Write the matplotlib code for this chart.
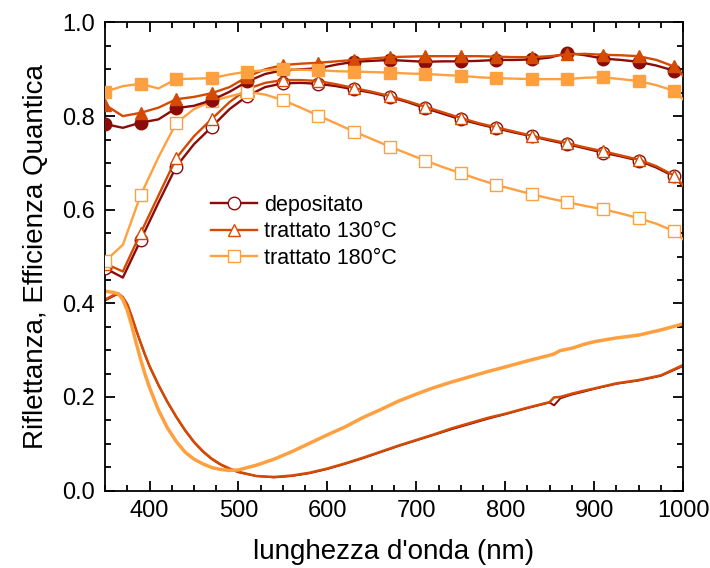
import numpy as np
import matplotlib
matplotlib.use("Agg")
import matplotlib.pyplot as plt
from matplotlib.ticker import MultipleLocator, FormatStrFormatter

plt.rcParams['font.family'] = ['Liberation Sans', 'DejaVu Sans']

# wavelength grid for the quantum efficiency curves (markers every 40 nm)
wl_qe = [350, 370, 390, 410, 430, 450, 470, 490, 510, 530, 550, 570, 590,
         610, 630, 650, 670, 690, 710, 730, 750, 770, 790, 810, 830, 850,
         870, 890, 910, 930, 950, 970, 990, 1000]

# external QE (open markers)
eqe_dep = [0.475, 0.455, 0.535, 0.615, 0.692, 0.740, 0.777, 0.815, 0.843,
           0.862, 0.870, 0.871, 0.869, 0.864, 0.857, 0.850, 0.841, 0.830,
           0.817, 0.805, 0.793, 0.783, 0.774, 0.765, 0.757, 0.748, 0.740,
           0.731, 0.722, 0.714, 0.705, 0.690, 0.671, 0.650]
eqe_130 = [0.485, 0.468, 0.550, 0.630, 0.710, 0.757, 0.794, 0.830, 0.858,
           0.871, 0.877, 0.877, 0.875, 0.868, 0.860, 0.852, 0.843, 0.832,
           0.820, 0.808, 0.796, 0.785, 0.776, 0.767, 0.758, 0.750, 0.742,
           0.733, 0.725, 0.716, 0.707, 0.693, 0.673, 0.652]
eqe_180 = [0.490, 0.525, 0.631, 0.712, 0.785, 0.815, 0.832, 0.842, 0.852,
           0.846, 0.834, 0.818, 0.801, 0.784, 0.767, 0.751, 0.735, 0.720,
           0.705, 0.691, 0.678, 0.665, 0.653, 0.643, 0.633, 0.624, 0.616,
           0.608, 0.601, 0.592, 0.582, 0.570, 0.554, 0.537]

# internal QE (filled markers)
iqe_dep = [0.783, 0.775, 0.786, 0.793, 0.817, 0.822, 0.834, 0.852, 0.874,
           0.890, 0.898, 0.900, 0.902, 0.910, 0.916, 0.918, 0.920, 0.918,
           0.916, 0.917, 0.917, 0.918, 0.920, 0.920, 0.921, 0.925, 0.935,
           0.930, 0.923, 0.920, 0.916, 0.908, 0.897, 0.890]
iqe_130 = [0.824, 0.800, 0.807, 0.818, 0.836, 0.841, 0.849, 0.862, 0.884,
           0.900, 0.909, 0.912, 0.914, 0.917, 0.920, 0.923, 0.926, 0.927,
           0.928, 0.928, 0.928, 0.928, 0.927, 0.926, 0.926, 0.928, 0.932,
           0.933, 0.931, 0.930, 0.928, 0.920, 0.906, 0.886]
iqe_180 = [0.852, 0.864, 0.869, 0.859, 0.879, 0.880, 0.881, 0.889, 0.895,
           0.898, 0.900, 0.899, 0.898, 0.896, 0.895, 0.894, 0.893, 0.891,
           0.890, 0.888, 0.886, 0.883, 0.881, 0.880, 0.879, 0.879, 0.879,
           0.882, 0.883, 0.879, 0.875, 0.866, 0.854, 0.836]

# reflectance
wl_r = [350, 360, 365, 370, 375, 380, 385, 390, 395, 400, 410, 420, 430,
        440, 450, 460, 470, 480, 490, 500, 520, 540, 560, 580, 600, 620,
        640, 660, 680, 700, 720, 740, 760, 780, 800, 825, 850, 855, 862,
        875, 888, 900, 925, 950, 975, 1000]
r_dep = [0.406, 0.416, 0.420, 0.412, 0.397, 0.371, 0.342, 0.315, 0.289,
         0.265, 0.225, 0.189, 0.157, 0.128, 0.103, 0.083, 0.067, 0.055,
         0.046, 0.039, 0.031, 0.028, 0.031, 0.037, 0.046, 0.057, 0.069,
         0.082, 0.095, 0.107, 0.119, 0.131, 0.142, 0.153, 0.163, 0.176,
         0.188, 0.182, 0.197, 0.205, 0.211, 0.217, 0.228, 0.235, 0.245,
         0.266]
r_130 = [0.408, 0.418, 0.421, 0.413, 0.398, 0.372, 0.343, 0.316, 0.290,
         0.266, 0.226, 0.190, 0.158, 0.129, 0.104, 0.084, 0.068, 0.056,
         0.047, 0.040, 0.031, 0.029, 0.032, 0.038, 0.047, 0.058, 0.070,
         0.083, 0.096, 0.108, 0.120, 0.133, 0.144, 0.155, 0.164, 0.177,
         0.189, 0.199, 0.200, 0.207, 0.213, 0.218, 0.229, 0.236, 0.246,
         0.268]
r_180 = [0.426, 0.423, 0.420, 0.408, 0.385, 0.352, 0.315, 0.280, 0.248,
         0.220, 0.172, 0.134, 0.105, 0.082, 0.067, 0.057, 0.049, 0.045,
         0.043, 0.044, 0.054, 0.067, 0.083, 0.101, 0.119, 0.136, 0.156,
         0.173, 0.191, 0.206, 0.220, 0.232, 0.243, 0.254, 0.264, 0.277,
         0.289, 0.292, 0.299, 0.304, 0.312, 0.318, 0.326, 0.332, 0.343,
         0.356]

labels = ['depositato', 'trattato 130°C', 'trattato 180°C']
colors = ['#8b0a0a', '#d44a02', '#ffa040']
markers = ['o', '^', 's']

fig = plt.figure(figsize=(7.1, 5.68), dpi=100)
ax = fig.add_axes([0.148, 0.1364, 0.814, 0.824])

eqes = [eqe_dep, eqe_130, eqe_180]
iqes = [iqe_dep, iqe_130, iqe_180]
refs = [r_dep, r_130, r_180]
rw = [1.4, 1.8, 2.5]

for i in range(3):
    ax.plot(wl_qe, eqes[i], color=colors[i], lw=1.7, marker=markers[i],
            ms=9, markevery=2, mfc='white', mec=colors[i], mew=1.0,
            label=labels[i], zorder=3)
for i in range(3):
    ax.plot(wl_qe, iqes[i], color=colors[i], lw=1.7, marker=markers[i],
            ms=9, markevery=2, mfc=colors[i], mec=colors[i], zorder=4)
for i in range(3):
    ax.plot(wl_r, refs[i], color=colors[i], lw=rw[i], zorder=2)

ax.set_xlim(350, 1000)
ax.set_ylim(0, 1.0)
ax.xaxis.set_major_locator(MultipleLocator(100))
ax.xaxis.set_minor_locator(MultipleLocator(25))
ax.yaxis.set_major_locator(MultipleLocator(0.2))
ax.yaxis.set_minor_locator(MultipleLocator(0.05))
ax.yaxis.set_major_formatter(FormatStrFormatter('%.1f'))
ax.tick_params(which='both', direction='in', top=True, right=True,
               labelsize=17, width=1.3)
ax.tick_params(which='major', length=7, pad=7)
ax.tick_params(which='minor', length=4)
for s in ax.spines.values():
    s.set_linewidth(1.3)

ax.set_xlabel("lunghezza d'onda (nm)", fontsize=20, labelpad=12)
ax.set_ylabel("Riflettanza, Efficienza Quantica", fontsize=20, labelpad=10)

ax.legend(loc='center left', bbox_to_anchor=(0.149, 0.553), frameon=False,
          fontsize=15.5, handlelength=2.15, handletextpad=0.35,
          labelspacing=0.25)

fig.savefig('out.png', dpi=100)
